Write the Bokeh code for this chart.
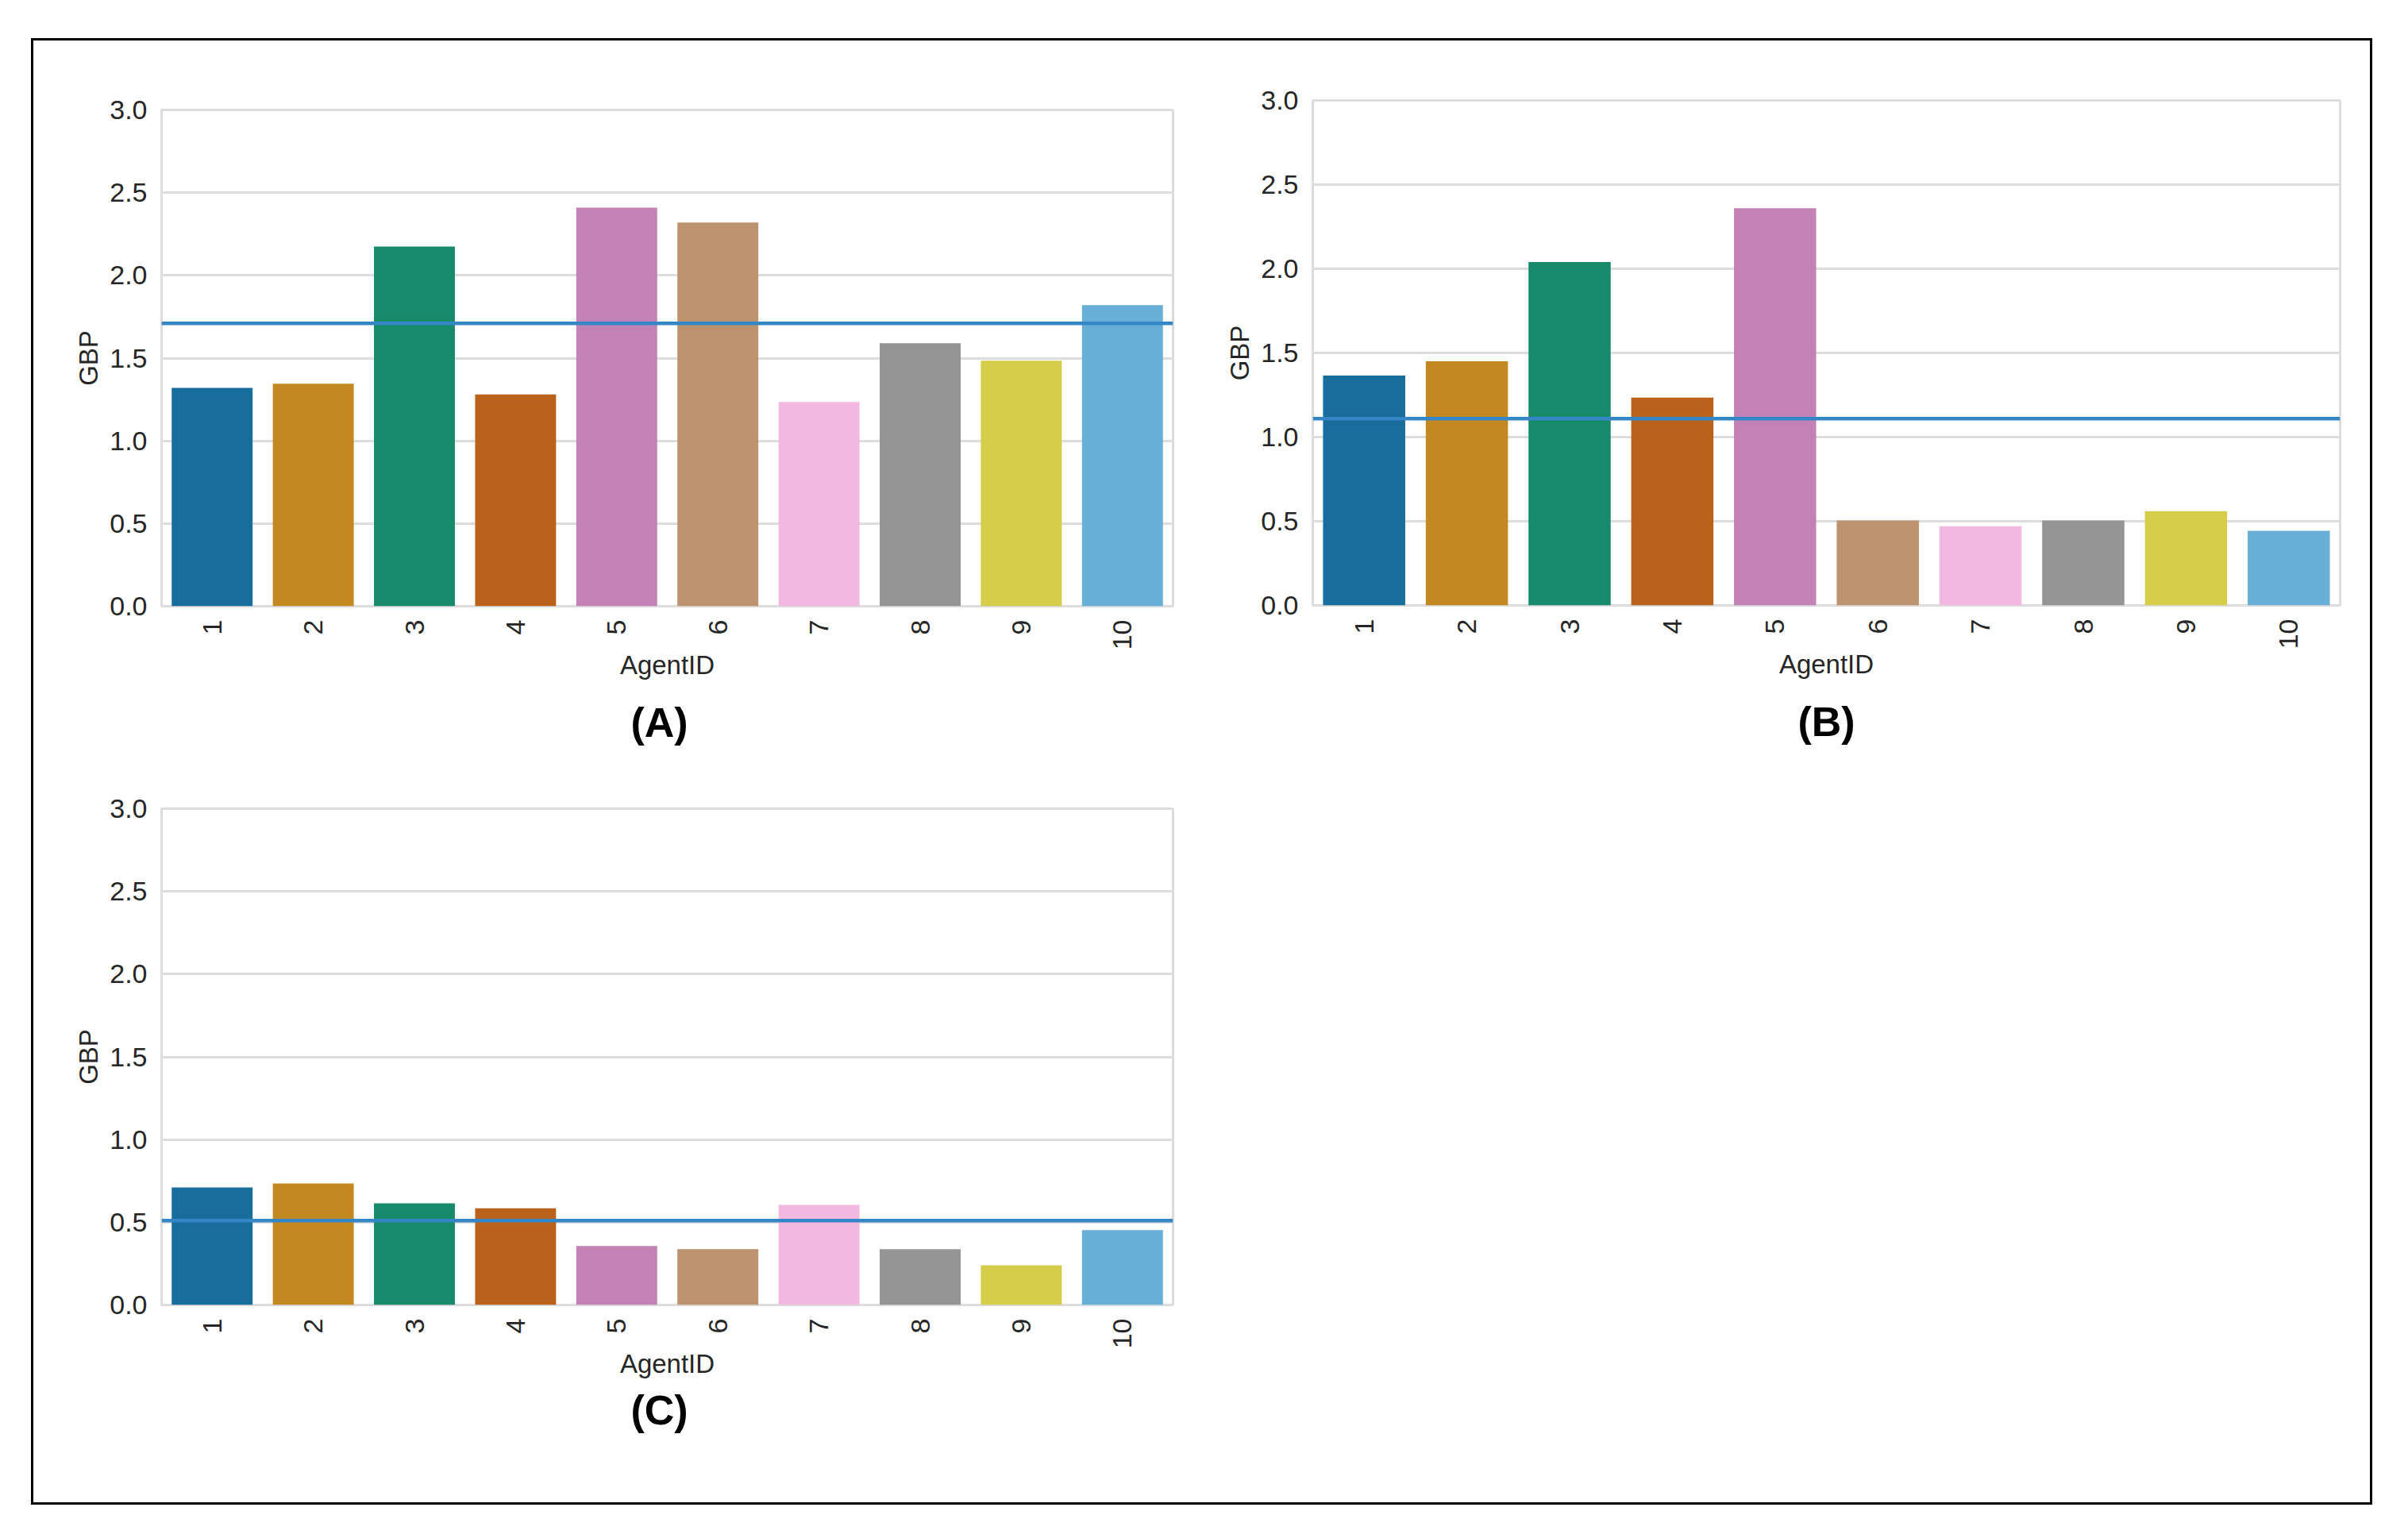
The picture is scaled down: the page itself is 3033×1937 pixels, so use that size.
from math import pi
from bokeh.plotting import figure
from bokeh.models import (FactorRange, Range1d, Span, Title, FixedTicker,
                          PrintfTickFormatter, Spacer, ColumnDataSource)
from bokeh.layouts import column, row
from bokeh.embed import file_html
from bokeh.resources import INLINE

# ---------------- data ----------------
agents = [str(i) for i in range(1, 11)]
bar_colors = ["#176D9C", "#C38820", "#168A6A", "#BA611B", "#C282B6",
              "#BD926E", "#F2B8E0", "#949494", "#D5CD4A", "#68AFD7"]
gbp_a = [1.32, 1.345, 2.175, 1.28, 2.41, 2.32, 1.235, 1.59, 1.485, 1.82]
gbp_b = [1.365, 1.45, 2.04, 1.235, 2.36, 0.505, 0.47, 0.505, 0.56, 0.443]
gbp_c = [0.71, 0.735, 0.615, 0.585, 0.357, 0.337, 0.605, 0.337, 0.24, 0.452]
mean_a = 1.71
mean_b = 1.11
mean_c = 0.51
panel_titles = ["(A)", "(B)", "(C)"]
y_ticks = [0.0, 0.5, 1.0, 1.5, 2.0, 2.5, 3.0]
x_label = "AgentID"
y_label = "GBP"

FONT = "Liberation Sans"
TXT = "#262626"


def make_panel(values, mean, title, frame_w, frame_h, left, right, top, bottom,
               title_standoff, title_align="center", title_offset=0):
    src = ColumnDataSource(dict(agent=agents, gbp=values, color=bar_colors))
    p = figure(x_range=FactorRange(factors=agents, range_padding=0),
               y_range=Range1d(0, 3),
               width=left + frame_w + right, height=top + frame_h + bottom,
               min_border_left=left, min_border_right=right,
               min_border_top=top, min_border_bottom=bottom,
               output_backend="svg", toolbar_location=None,
               x_axis_label=x_label, y_axis_label=y_label)
    p.vbar(x="agent", top="gbp", width=0.8, source=src,
           fill_color="color", line_color=None)
    p.add_layout(Span(location=mean, dimension="width",
                      line_color="#3586C6", line_width=4.5))

    p.background_fill_color = "white"
    p.border_fill_color = "white"
    p.outline_line_color = "#DDDDDD"
    p.outline_line_width = 3

    p.xgrid.grid_line_color = None
    tk = FixedTicker(ticks=y_ticks)
    p.yaxis.ticker = tk
    p.ygrid.ticker = tk
    p.ygrid.grid_line_color = "#DDDDDD"
    p.ygrid.grid_line_width = 3
    p.yaxis.formatter = PrintfTickFormatter(format="%.1f")

    for ax in (p.xaxis, p.yaxis):
        ax.axis_line_color = None
        ax.major_tick_out = 0
        ax.major_tick_in = 0
        ax.minor_tick_out = 0
        ax.minor_tick_in = 0
        ax.major_label_text_font = FONT
        ax.major_label_text_font_size = "34px"
        ax.major_label_text_color = TXT
        ax.major_label_standoff = 18
        ax.axis_label_text_font = FONT
        ax.axis_label_text_font_size = "33px"
        ax.axis_label_text_font_style = "normal"
        ax.axis_label_text_color = TXT
    p.xaxis.major_label_standoff = 17
    p.xaxis.major_label_orientation = pi / 2
    p.xaxis.axis_label_standoff = -2
    p.yaxis.axis_label_standoff = 5

    p.add_layout(Title(text=title, align=title_align, offset=title_offset,
                       text_font=FONT, text_font_size="52px",
                       text_font_style="bold", text_color="black",
                       standoff=title_standoff), "below")
    return p


pa = make_panel(gbp_a, mean_a, panel_titles[0], 1274, 625, 161, 50, 87, 236,
                38, "left", 591)
pb = make_panel(gbp_b, mean_b, panel_titles[1], 1294, 636, 126, 38, 75, 237, 38)
pc = make_panel(gbp_c, mean_c, panel_titles[2], 1274, 625, 161, 50, 19, 249,
                11, "left", 591)

top_row = row(pa, column(pb))
bottom_row = row(pc, Spacer(width=126 + 1294 + 38, height=893))
layout = column(top_row, bottom_row,
                styles={"border": "3px solid black", "background": "white"},
                margin=(48, 0, 0, 39))

open("out.html", "w").write(file_html(layout, INLINE))
